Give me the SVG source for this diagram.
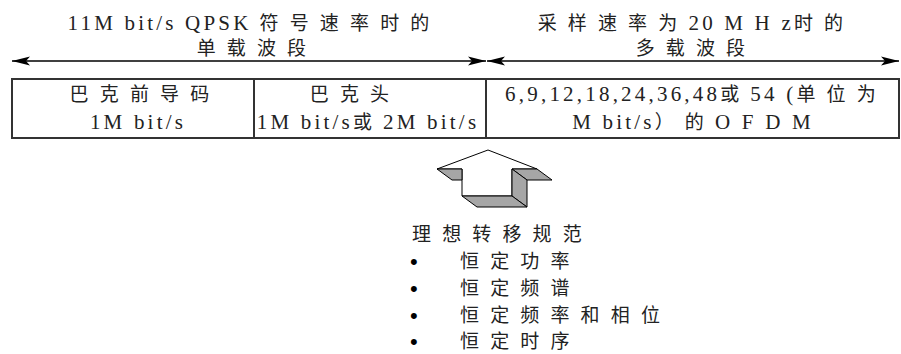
<svg xmlns="http://www.w3.org/2000/svg" width="901" height="354" viewBox="0 0 901 354">
<style>
  .t { font-family: "Liberation Serif", "Noto Sans CJK SC", serif; font-size: 19px; fill: #222; letter-spacing: 3.2px; }
  .l { font-size: 21px; }
  .m { text-anchor: middle; }
  .ln { stroke: #000; stroke-width: 1.5; fill: none; }
  .box { stroke: #333; stroke-width: 2; fill: #fff; }
  .ar { fill: #fff; stroke: #000; stroke-width: 1; stroke-linejoin: round; }
  .sh { fill: #a6a6a6; stroke: #000; stroke-width: 1; stroke-linejoin: round; }
  .b { font-family: "Liberation Sans", sans-serif; font-size: 22px; fill: #000; }
</style>
<defs>
  <marker id="ah" viewBox="0 0 18 10" refX="18" refY="5" markerWidth="18" markerHeight="10" markerUnits="userSpaceOnUse" orient="auto-start-reverse">
    <path d="M0,0.5 L18,5 L0,9.5 L4,5 Z" fill="#000"/>
  </marker>
</defs>

<g id="connectors">
  <line class="ln" x1="12" y1="61" x2="486" y2="61" marker-start="url(#ah)" marker-end="url(#ah)"/>
  <line class="ln" x1="487" y1="61" x2="899" y2="61" marker-start="url(#ah)" marker-end="url(#ah)"/>
</g>

<g id="title-single">
  <text class="t m" x="250" y="30"><tspan class="l">11M bit/s QPSK</tspan> 符 号 速 率 时 的</text>
  <text class="t m" x="253" y="55">单 载 波 段</text>
</g>
<g id="title-multi">
  <text class="t m" x="692" y="30">采 样 速 率 为 <tspan class="l">20 M H z</tspan>时 的</text>
  <text class="t m" x="692" y="55">多 载 波 段</text>
</g>

<g id="cell-preamble">
  <rect class="box" x="12" y="79" width="242" height="59"/>
  <text class="t m" x="141" y="101">巴 克 前 导 码</text>
  <text class="t l m" x="138" y="129">1M bit/s</text>
</g>
<g id="cell-header">
  <rect class="box" x="254" y="79" width="232" height="59"/>
  <text class="t m" x="351" y="101">巴 克 头</text>
  <text class="t m" x="368" y="129"><tspan class="l">1M bit/s</tspan>或 <tspan class="l">2M bit/s</tspan></text>
</g>
<g id="cell-ofdm">
  <rect class="box" x="486" y="79" width="413" height="59"/>
  <text class="t m" x="692" y="101"><tspan class="l">6,9,12,18,24,36,48</tspan>或 <tspan class="l">54 (</tspan>单 位 为</text>
  <text class="t m" x="693" y="129"><tspan class="l">M bit/s</tspan>） 的 <tspan class="l">O F D M</tspan></text>
</g>

<g id="transfer-arrow">
  <polygon class="ar" points="488,150 537,169 512,169 512,196 462,196 462,169 437,169"/>
  <polygon class="sh" points="437,169 462,169 462,180 452,180"/>
  <polygon class="sh" points="512,169 537,169 552,180 527,180"/>
  <polygon class="sh" points="512,169 527,180 527,207 512,196"/>
  <polygon class="sh" points="462,196 512,196 527,207 477,207"/>
</g>

<g id="spec-list">
  <text class="t" x="412" y="241">理 想 转 移 规 范</text>
  <text class="b" x="410" y="269">•</text>
  <text class="t" x="460" y="268">恒 定 功 率</text>
  <text class="b" x="410" y="296">•</text>
  <text class="t" x="460" y="295">恒 定 频 谱</text>
  <text class="b" x="410" y="323">•</text>
  <text class="t" x="460" y="322">恒 定 频 率 和 相 位</text>
  <text class="b" x="410" y="349">•</text>
  <text class="t" x="460" y="348">恒 定 时 序</text>
</g>
</svg>
